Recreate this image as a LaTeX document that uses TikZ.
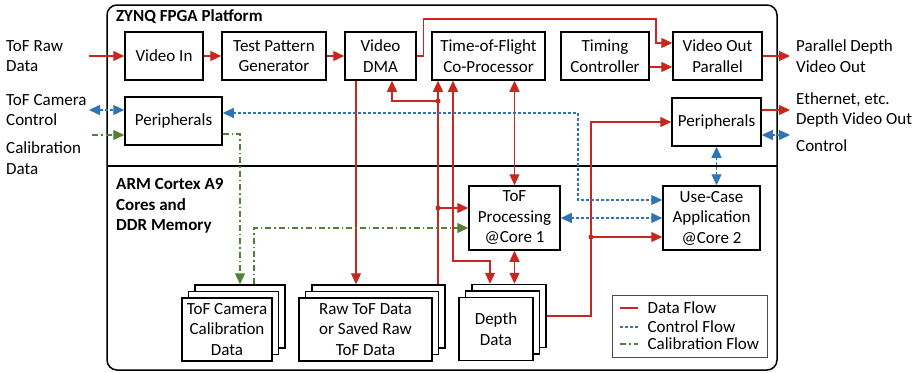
\documentclass[tikz,border=0pt]{standalone}
\usepackage{fontspec}
\setmainfont{Carlito}
\usetikzlibrary{arrows.meta, shadows, positioning}

\definecolor{datared}{RGB}{200,38,30}
\definecolor{ctrlblue}{RGB}{46,117,182}
\definecolor{calgreen}{RGB}{84,130,53}
\newcommand{\figfont}{\fontsize{17}{20.5}\selectfont}

\tikzset{
  block/.style={draw, line width=1.5pt, align=center, inner sep=1pt, minimum height=48pt},
  stack/.style={block, fill=white, minimum height=63pt,
    general shadow={shadow xshift=13pt, shadow yshift=13pt, draw=black, fill=white, line width=1.5pt},
    general shadow={shadow xshift=6.5pt, shadow yshift=6.5pt, draw=black, fill=white, line width=1.5pt}},
  data/.style={draw=datared, line width=1.2pt},
  ctrl/.style={draw=ctrlblue, line width=1.2pt, dash pattern=on 3pt off 2pt},
  calib/.style={draw=calgreen, line width=1.2pt, dash pattern=on 6pt off 3pt on 1.5pt off 3pt},
  tag/.style={align=left, anchor=west, inner sep=1pt},
}

\begin{document}
\begin{tikzpicture}[>={Triangle[length=11pt, width=10pt]}, x=1pt, y=-1pt, font=\figfont]
\useasboundingbox (0,0) rectangle (920,372);
% platform frame
\draw[line width=1.5pt, rounded corners=10pt] (107,5) rectangle (777,370);
\draw[line width=1.2pt] (107,166) -- (777,166);
\node[tag, font=\figfont\bfseries] (fpga) at (115,17) {ZYNQ FPGA Platform};
\node[tag, font=\figfont\bfseries] (arm) at (115,206) {ARM Cortex A9\\Cores and\\DDR Memory};
%
% FPGA blocks
\node[block, minimum width=78pt] (vin) at (164,56) {Video In};
\node[block, minimum width=104pt] (tpg) at (274,56) {Test Pattern\\Generator};
\node[block, minimum width=71pt] (vdma) at (380.5,56) {Video\\DMA};
\node[block, minimum width=113pt] (tofcp) at (488.5,56) {Time-of-Flight\\Co-Processor};
\node[block, minimum width=88pt] (timing) at (605,56) {Timing\\Controller};
\node[block, minimum width=89pt] (vout) at (717.5,56) {Video Out\\Parallel};
\node[block, minimum width=97pt] (perL) at (173.5,121) {Peripherals};
\node[block, minimum width=89pt] (perR) at (716.5,122) {Peripherals};
%
% ARM cores and memory
\node[block, minimum width=91pt, minimum height=64pt] (tofproc) at (514.5,218) {ToF\\Processing\\@Core 1};
\node[block, minimum width=97pt, minimum height=64pt] (usecase) at (711.5,218) {Use-Case\\Application\\@Core 2};
\node[stack, minimum width=90pt] (camcal) at (227,329.5) {ToF Camera\\Calibration\\Data};
\node[stack, minimum width=133pt] (rawtof) at (365.5,329.5) {Raw ToF Data\\or Saved Raw\\ToF Data};
\node[stack, minimum width=74pt] (depth) at (496,329) {Depth\\Data};
\coordinate (camcaltop) at ([yshift=13pt]camcal.north);
\coordinate (rawtop) at ([yshift=13pt]rawtof.north);
\coordinate (depthtop) at ([yshift=13pt]depth.north);
%
% outside labels
\node[tag] (rawlbl) at (5,56) {ToF Raw\\Data};
\node[tag] (camlbl) at (5,110) {ToF Camera\\Control};
\node[tag] (callbl) at (5,158) {Calibration\\Data};
\node[tag] (parlbl) at (795,56) {Parallel Depth\\Video Out};
\node[tag] (ethlbl) at (795,110) {Ethernet, etc.\\Depth Video Out};
\node[tag] (ctllbl) at (795,146) {Control};
\coordinate (rawin) at (89,56);
\coordinate (camio) at (89,110);
\coordinate (calin) at (92,135);
\coordinate (parout) at (790,56);
\coordinate (ethout) at (790,110);
\coordinate (ctlio) at (790,135);
%
% lanes
\coordinate (xdma) at (356,0);
\coordinate (xret) at (392,0);
\coordinate (xraw) at (438,0);
\coordinate (xdep) at (453,0);
\coordinate (xctl) at (578,0);
\coordinate (xcaldn) at (240,0);
\coordinate (xcalup) at (254,0);
\coordinate (jdma) at (438,101);
\coordinate (jproc) at (438,208);
\coordinate (jout) at (591,237);
\coordinate (dbend) at (490,261);
\coordinate (ucin) at ([yshift=18pt]usecase.west);
%
% data flow
\draw[data, ->] (rawin) -- (vin);
\draw[data, ->] (vin) -- (tpg);
\draw[data, ->] (tpg) -- (vdma);
\draw[data, ->] (vdma.east) -- ++(7,0) |- (656,19) |- ([yshift=13pt]vout.west);
\draw[data, ->] ([yshift=-11pt]timing.east) -- ([yshift=-11pt]vout.west);
\draw[data, ->] (vout.east) -- (parout);
\draw[data, ->] (vdma.south -| xdma) -- (rawtop -| xdma);
\draw[data, ->] (rawtop -| xraw) -- (tofcp.south -| xraw);
\draw[data, ->] (jdma) -| (vdma.south -| xret);
\draw[data, ->] (jproc) -- (jproc -| tofproc.west);
\draw[data, <->] (tofcp.south -| xdep) |- (dbend) -- (depthtop -| dbend);
\draw[data, <->] (tofcp.south -| tofproc) -- (tofproc.north);
\draw[data, <->] (tofproc.south) -- (depthtop -| tofproc);
\draw[data] ([xshift=13pt, yshift=13pt]depth.east) -| (jout);
\draw[data, ->] (jout) |- (perR.west);
\draw[data, ->] (jout) -- (jout -| usecase.west);
\draw[data, ->] ([yshift=12pt]perR.east) -- (ethout);
\fill[datared] (jdma) circle (2.5pt);
\fill[datared] (jproc) circle (2.5pt);
\fill[datared] (jout) circle (2.5pt);
%
% control flow
\draw[ctrl, <->] (camio) -- ([yshift=11pt]perL.west);
\draw[ctrl, <->] ([yshift=8pt]perL.east) -| (ucin -| xctl) -- (ucin);
\draw[ctrl, <->] (tofproc.east) -- (usecase.west);
\draw[ctrl, <->] (perR.south) -- (perR.south |- usecase.north);
\draw[ctrl, <->] ([yshift=-13pt]perR.east) -- (ctlio);
%
% calibration flow
\draw[calib, ->] (calin) -- ([yshift=-14pt]perL.west);
\draw[calib, ->] ([yshift=-13pt]perL.east) -| (camcaltop -| xcaldn);
\draw[calib, ->] (camcaltop -| xcalup) |- ([yshift=-10pt]tofproc.west);
%
% legend
\node[draw=black!70, line width=1pt, minimum width=155pt, minimum height=62pt] (legend) at (689.5,326) {};
\draw[data] (620,308) -- (638,308) node[tag, xshift=8pt] (ldata) {Data Flow};
\draw[ctrl] (620,327) -- (638,327) node[tag, xshift=8pt] (lctrl) {Control Flow};
\draw[calib] (620,344) -- (638,344) node[tag, xshift=8pt] (lcalib) {Calibration Flow};
\end{tikzpicture}
\end{document}
